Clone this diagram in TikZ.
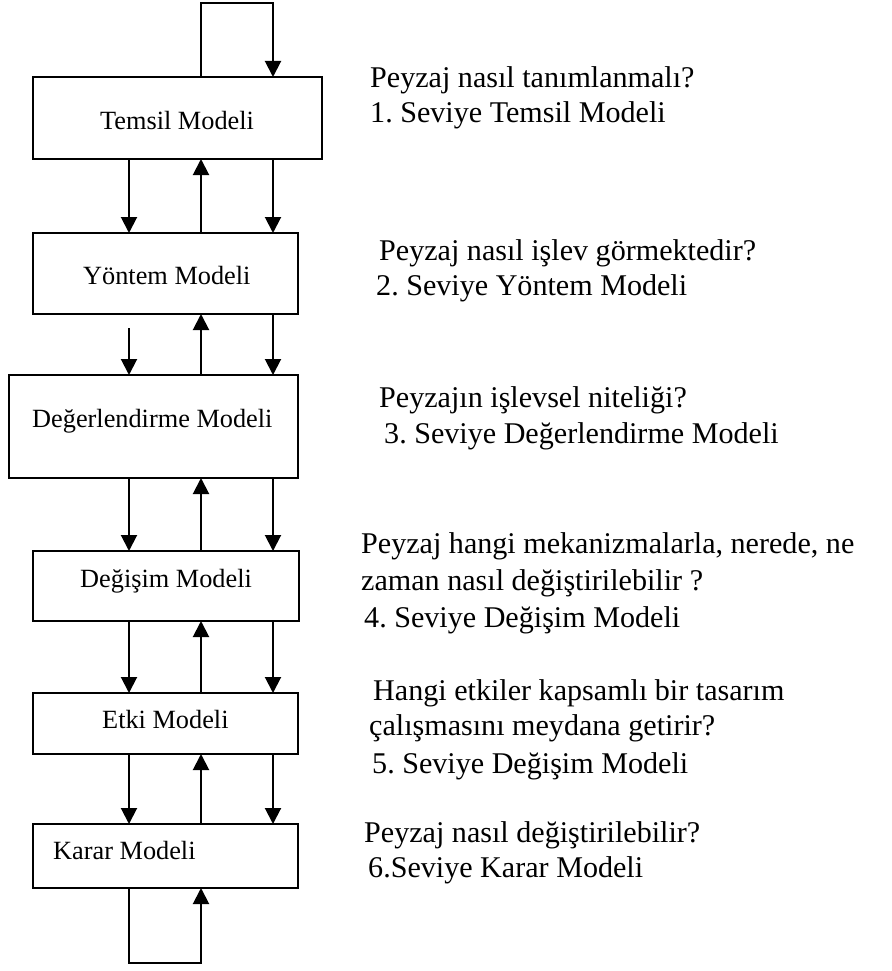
\documentclass[tikz,border=0pt]{standalone}
\usepackage{fontspec}
\setmainfont{Liberation Serif}
\usetikzlibrary{arrows.meta}
\frenchspacing
\begin{document}
\begin{tikzpicture}[x=1pt,y=-1pt,
  box/.style={draw, line width=2.2pt, inner sep=0pt, outer sep=0pt},
  lbl/.style={anchor=base west, inner sep=0pt, font=\fontsize{26.3}{30}\selectfont},
  qtxt/.style={anchor=base west, inner sep=0pt, font=\fontsize{30.1}{35}\selectfont},
  conn/.style={line width=2pt},
  arr/.style={line width=2pt, -{Triangle[width=16pt,length=16pt]}}]
\useasboundingbox (0,0) rectangle (891,971);
% boxes
\node[box, minimum width=289pt, minimum height=82pt] (t) at (177.5,118) {};
\node[box, minimum width=265pt, minimum height=81pt] (y) at (165.5,273.5) {};
\node[box, minimum width=289pt, minimum height=103pt] (d) at (153.5,426.5) {};
\node[box, minimum width=266pt, minimum height=70pt] (g) at (166,586) {};
\node[box, minimum width=265pt, minimum height=61pt] (e) at (165.5,723.5) {};
\node[box, minimum width=265pt, minimum height=64pt] (k) at (165.5,856) {};
% box labels
\node[lbl] (tl) at (100,129) {Temsil Modeli};
\node[lbl] (yl) at (83,284) {Yöntem Modeli};
\node[lbl] (dl) at (32,427) {Değerlendirme Modeli};
\node[lbl] (gl) at (80,587) {Değişim Modeli};
\node[lbl] (el) at (102,728) {Etki Modeli};
\node[lbl] (kl) at (53,859) {Karar Modeli};
% column coordinates
\coordinate (xl) at (129,0);
\coordinate (xm) at (201,0);
\coordinate (xr) at (273,0);
% top loop
\coordinate (lt1) at (201,3);
\coordinate (lt2) at (273,3);
\draw[arr] (t.north -| xm) -- (lt1) -- (lt2) -- (t.north -| xr);
% between boxes
\foreach \a/\b in {t/y, d/g, g/e, e/k}{
  \draw[arr] (\a.south -| xl) -- (\b.north -| xl);
  \draw[arr] (\b.north -| xm) -- (\a.south -| xm);
  \draw[arr] (\a.south -| xr) -- (\b.north -| xr);
}
\coordinate (yd) at (129,328);
\draw[arr] (yd) -- (d.north -| xl);
\draw[arr] (d.north -| xm) -- (y.south -| xm);
\draw[arr] (y.south -| xr) -- (d.north -| xr);
% bottom loop
\coordinate (lb1) at (129,963);
\coordinate (lb2) at (201,963);
\draw[arr] (k.south -| xl) -- (lb1) -- (lb2) -- (k.south -| xm);
% right texts
\node[qtxt] (q1a) at (370,88) {Peyzaj nasıl tanımlanmalı?};
\node[qtxt] (q1b) at (370,123) {1. Seviye Temsil Modeli};
\node[qtxt] (q2a) at (379,260) {Peyzaj nasıl işlev görmektedir?};
\node[qtxt] (q2b) at (376,295) {2. Seviye Yöntem Modeli};
\node[qtxt] (q3a) at (379,407) {Peyzajın işlevsel niteliği?};
\node[qtxt] (q3b) at (384,443) {3. Seviye Değerlendirme Modeli};
\node[qtxt] (q4a) at (361,553) {Peyzaj hangi mekanizmalarla, nerede, ne};
\node[qtxt] (q4b) at (361,590) {zaman nasıl değiştirilebilir ?};
\node[qtxt] (q4c) at (364,627) {4. Seviye Değişim Modeli};
\node[qtxt] (q5a) at (373,700) {Hangi etkiler kapsamlı bir tasarım};
\node[qtxt] (q5b) at (369,735) {çalışmasını meydana getirir?};
\node[qtxt] (q5c) at (372,773) {5. Seviye Değişim Modeli};
\node[qtxt] (q6a) at (364,842) {Peyzaj nasıl değiştirilebilir?};
\node[qtxt] (q6b) at (368,877) {6.Seviye Karar Modeli};
\end{tikzpicture}
\end{document}
